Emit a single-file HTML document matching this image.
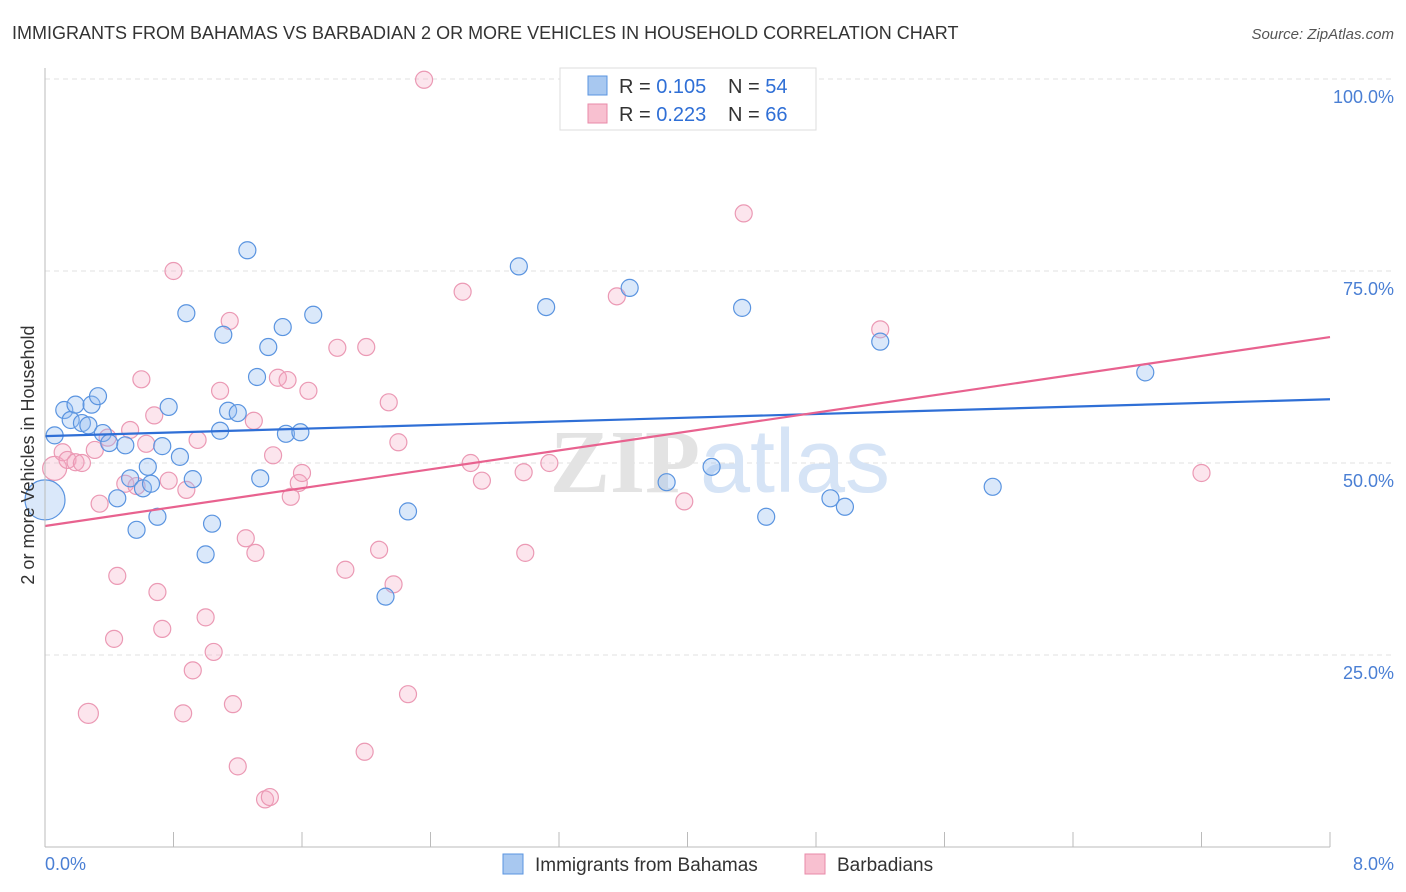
<!DOCTYPE html>
<html><head><meta charset="utf-8"><style>
body{margin:0;background:#fff;font-family:"Liberation Sans",sans-serif;}
svg{display:block}
</style></head><body>
<svg width="1406" height="892" xmlns="http://www.w3.org/2000/svg">
<text x="12" y="39" font-size="18" fill="#333">IMMIGRANTS FROM BAHAMAS VS BARBADIAN 2 OR MORE VEHICLES IN HOUSEHOLD CORRELATION CHART</text>
<text x="1394" y="39" font-size="15" fill="#555" font-style="italic" text-anchor="end">Source: ZipAtlas.com</text>
<g id="grid"></g>
<text x="720" y="492" font-size="90" fill="#e3e3e3" text-anchor="middle" font-family="Liberation Serif,serif" font-weight="bold">ZIP<tspan fill="#d6e4f6" font-family="Liberation Sans,sans-serif" font-weight="normal">atlas</tspan></text>
<g id="pts"></g>
<g id="lines"></g>
<line x1="45" y1="68" x2="45" y2="847" stroke="#bbb"/>
<line x1="45" y1="847" x2="1330" y2="847" stroke="#bbb"/>
<text transform="translate(34,455) rotate(-90)" font-size="18" fill="#333" text-anchor="middle">2 or more Vehicles in Household</text>
<text x="45" y="870" font-size="18" fill="#4a7fd4">0.0%</text>
<text x="1394" y="870" font-size="18" fill="#4a7fd4" text-anchor="end">8.0%</text>
<g>
<rect x="560" y="68" width="256" height="62" fill="#fff" stroke="#ddd"/>
<rect x="588" y="76" width="19" height="19" fill="#a8c8f0" stroke="#5a94e0"/>
<rect x="588" y="104" width="19" height="19" fill="#f8c0d0" stroke="#e88aa8"/>
<text x="619" y="93" font-size="20" fill="#333">R = <tspan fill="#2f6fd6">0.105</tspan></text>
<text x="728" y="93" font-size="20" fill="#333">N = <tspan fill="#2f6fd6">54</tspan></text>
<text x="619" y="121" font-size="20" fill="#333">R = <tspan fill="#2f6fd6">0.223</tspan></text>
<text x="728" y="121" font-size="20" fill="#333">N = <tspan fill="#2f6fd6">66</tspan></text>
</g>
<g>
<rect x="503" y="854" width="20" height="20" fill="#a8c8f0" stroke="#5a94e0"/>
<text x="535" y="871" font-size="19" fill="#333">Immigrants from Bahamas</text>
<rect x="805" y="854" width="20" height="20" fill="#f8c0d0" stroke="#e88aa8"/>
<text x="837" y="871" font-size="19" fill="#333">Barbadians</text>
</g>
</svg>
<script>
const yTicks=[25,50,75,100];
const yTickLabels=["25.0%","50.0%","75.0%","100.0%"];
const xTicks=[0,0.8,1.6,2.4,3.2,4,4.8,5.6,6.4,7.2,8];
const blueX=[0,0.06,0.12,0.16,0.19,0.23,0.27,0.29,0.33,0.36,0.40,0.50,0.45,0.53,0.57,0.61,0.64,0.66,0.70,0.73,0.77,0.84,0.88,0.92,1.00,1.04,1.09,1.11,1.14,1.20,1.26,1.32,1.34,1.39,1.48,1.50,1.59,1.67,2.12,2.26,2.95,3.12,3.64,3.87,4.15,4.34,4.49,4.89,4.98,5.20,5.90,6.85];
const blueY=[45.2,53.6,56.9,55.6,57.6,55.2,54.9,57.6,58.7,53.9,52.6,52.3,45.4,48.0,41.3,46.7,49.5,47.3,43.0,52.2,57.3,50.8,69.5,47.9,38.1,42.1,54.2,66.7,56.8,56.5,77.7,61.2,48.0,65.1,67.7,53.8,54.0,69.3,32.6,43.7,75.6,70.3,72.8,47.5,49.5,70.2,43.0,45.4,44.3,65.8,46.9,61.8];
const pinkX=[0.06,0.11,0.14,0.19,0.23,0.31,0.34,0.39,0.45,0.43,0.27,0.50,0.53,0.57,0.60,0.63,0.68,0.70,0.73,0.77,0.80,0.86,0.88,0.92,0.95,1.00,1.05,1.09,1.15,1.17,1.20,1.25,1.30,1.31,1.37,1.40,1.42,1.45,1.51,1.53,1.58,1.60,1.64,1.82,1.87,1.99,2.00,2.08,2.14,2.17,2.20,2.26,2.36,2.60,2.65,2.72,2.98,2.99,3.14,3.56,3.98,4.35,5.20,7.20];
const pinkY=[49.3,51.4,50.4,50.1,50.0,51.7,44.7,53.3,35.3,27.1,17.4,47.3,54.3,47.0,60.9,52.5,56.2,33.2,28.4,47.7,75.0,17.4,46.5,23.0,53.0,29.9,25.4,59.4,68.5,18.6,10.5,40.2,55.5,38.3,6.2,6.5,51.0,61.1,60.8,45.6,47.4,48.7,59.4,65.0,36.1,12.4,65.1,38.7,57.9,34.2,52.7,19.9,99.9,72.3,50.0,47.7,48.8,38.3,50.0,71.7,45.0,82.5,67.4,48.7];
const blueLine=[53.5,58.3];
const pinkLine=[41.8,66.4];
const X=v=>45+v/8*1285, Y=v=>847-v/100*768;
const NS="http://www.w3.org/2000/svg";
function mk(tag,attrs,parent){const e=document.createElementNS(NS,tag);for(const k in attrs)e.setAttribute(k,attrs[k]);parent.appendChild(e);return e;}
const grid=document.getElementById('grid');
yTicks.forEach((t,i)=>{
 const l=mk('line',{x1:45,x2:1394,y1:Y(t),y2:Y(t),stroke:'#e2e2e2','stroke-dasharray':'5,4'},grid);
 
 
 const tx=mk('text',{x:1394,y:Y(t)+24,'font-size':18,fill:'#4a7fd4','text-anchor':'end'},grid);
 tx.textContent=yTickLabels[i];
 
 
});
xTicks.forEach(t=>{
 const l=mk('line',{x1:X(t),x2:X(t),y1:832,y2:847,stroke:'#bbb'},grid);
 
 
});
const pts=document.getElementById('pts');
pinkX.forEach((x,i)=>{
 const c=mk('circle',{cx:X(x),cy:Y(pinkY[i]),r:(i==0?12:(i==10?10:8.5)),fill:'rgba(244,170,195,0.3)',stroke:'#eb99b4','stroke-width':1.2},pts);
 
 
});
blueX.forEach((x,i)=>{
 const c=mk('circle',{cx:X(x),cy:Y(blueY[i]),r:(i==0?20:8.5),fill:'rgba(150,190,240,0.35)',stroke:'#5a94e0','stroke-width':1.2},pts);
 
 
});
const lg=document.getElementById('lines');
const bl=mk('line',{x1:X(0),y1:Y(blueLine[0]),x2:X(8),y2:Y(blueLine[1]),stroke:'#2f6fd6','stroke-width':2.2},lg);


const pl=mk('line',{x1:X(0),y1:Y(pinkLine[0]),x2:X(8),y2:Y(pinkLine[1]),stroke:'#e8628f','stroke-width':2.2},lg);


</script>
</body></html>
